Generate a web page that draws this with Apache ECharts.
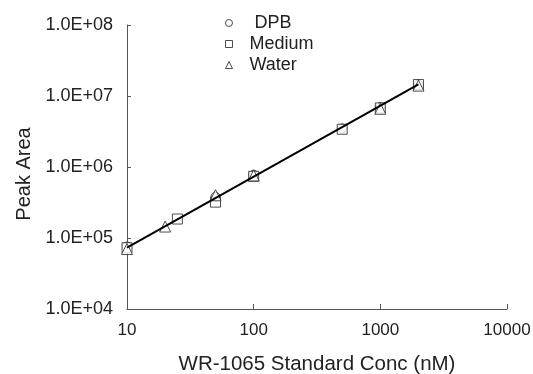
<!DOCTYPE html>
<html><head><meta charset="utf-8">
<script src="https://cdn.jsdelivr.net/npm/echarts@6/dist/echarts.min.js"></script>
<style>html,body{margin:0;padding:0;background:#fff}#c{width:533px;height:374px}</style>
</head><body><div id="c"></div>
<script>
var dpbX = [10, 50, 100, 500, 1000, 2000];
var dpbY = [7.6e4, 3.8e5, 7.8e5, 3.5e6, 7.0e6, 1.45e7];
var medX = [10, 25, 50, 100, 500, 1000, 2000];
var medY = [7.3e4, 1.85e5, 3.2e5, 7.4e5, 3.4e6, 6.8e6, 1.45e7];
var watX = [10, 20, 50, 100, 1000, 2000];
var watY = [7.0e4, 1.45e5, 4.0e5, 7.6e5, 6.6e6, 1.4e7];
var fitX = [10, 2000];
var fitY = [7.3e4, 1.46e7];
var seriesNames = ['DPB', 'Medium', 'Water'];

function pairs(xs, ys){ return xs.map(function(x,i){return [x, ys[i]];}); }
function sci(v){
  var e = Math.round(Math.log10(v));
  var m = v / Math.pow(10, e);
  return m.toFixed(1) + 'E+' + (e < 10 ? '0' + e : e);
}
var font = 'Liberation Sans, Arial, sans-serif';
var ptStyle = {color:'#fff', borderColor:'#222', borderWidth:1};
var chart = echarts.init(document.getElementById('c'));
chart.setOption({
  animation:false,
  backgroundColor:'#fff',
  grid:{left:127, right:26, top:25, bottom:65, outerBoundsMode:'none', containLabel:false},
  legend:{
    orient:'vertical', left:220, top:9, itemGap:3, itemWidth:7, itemHeight:7,
    formatter:function(n){ return n === 'DPB' ? ' ' + n : n; },
    itemStyle:{borderWidth:1},
    textStyle:{fontFamily:font, fontSize:18, color:'#222', padding:[0,0,0,12]},
    data:[{name:seriesNames[0], icon:'circle'},{name:seriesNames[1], icon:'rect'},{name:seriesNames[2], icon:'triangle'}]
  },
  xAxis:{
    type:'log', logBase:10, min:10, max:10000,
    name:'WR-1065 Standard Conc (nM)', nameLocation:'middle', nameGap:45,
    nameTextStyle:{fontFamily:font, fontSize:20.5, color:'#222'},
    axisLine:{lineStyle:{color:'#555', width:1}},
    axisTick:{inside:true, length:5, lineStyle:{color:'#555'}},
    axisLabel:{fontFamily:font, fontSize:17, color:'#222', margin:13, formatter:function(v){return String(v);}},
    splitLine:{show:false}, minorTick:{show:false}
  },
  yAxis:{
    type:'log', logBase:10, min:1e4, max:1e8,
    name:'Peak Area', nameLocation:'middle', nameGap:93,
    nameTextStyle:{fontFamily:font, fontSize:20, color:'#222', padding:[0,14,0,0]},
    axisLine:{show:true, lineStyle:{color:'#555', width:1}},
    axisTick:{show:true, inside:true, length:4, lineStyle:{color:'#555'}},
    axisLabel:{fontFamily:font, fontSize:18, color:'#222', margin:14, formatter:sci},
    splitLine:{show:false}
  },
  series:[
    {name:'fit', type:'line', data:pairs(fitX, fitY), symbol:'none', lineStyle:{color:'#000', width:2}, z:3, legendHoverLink:false},
    {name:seriesNames[0], type:'scatter', symbol:'circle', symbolSize:9, data:pairs(dpbX, dpbY), itemStyle:ptStyle, z:2},
    {name:seriesNames[1], type:'scatter', symbol:'rect', symbolSize:10, data:pairs(medX, medY), itemStyle:ptStyle, z:2},
    {name:seriesNames[2], type:'scatter', symbol:'triangle', symbolSize:11, data:pairs(watX, watY), itemStyle:ptStyle, z:2}
  ]
});
</script></body></html>
